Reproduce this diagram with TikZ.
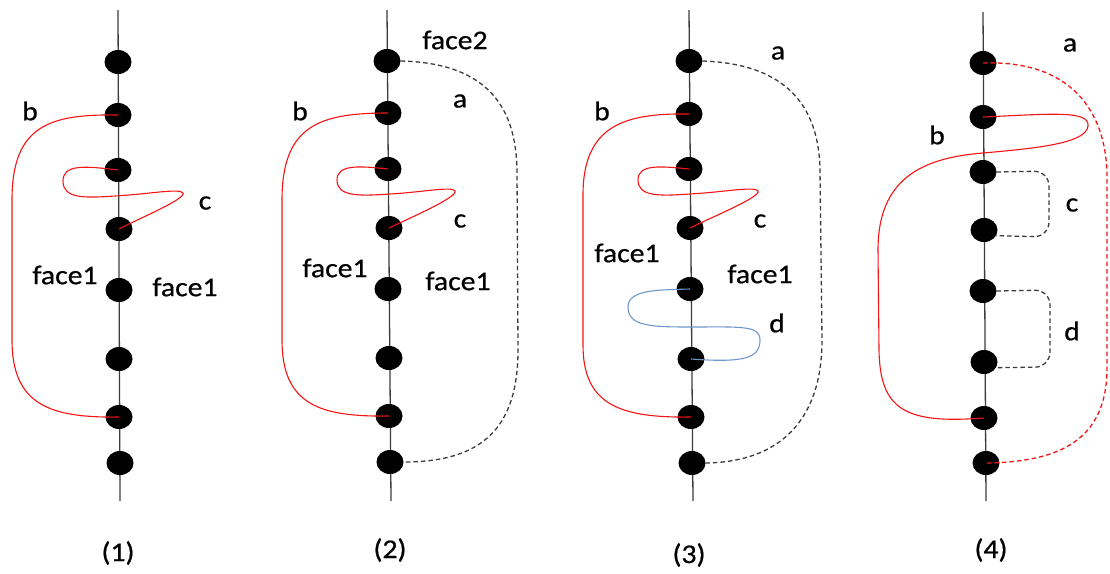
\documentclass[tikz,border=0pt]{standalone}
\usepackage{fontspec}
\setmainfont{Carlito}[FakeStretch=1.1, FakeBold=0.6]
\usetikzlibrary{shapes.geometric}
\definecolor{edgered}{RGB}{245,20,20}
\definecolor{edgeblue}{RGB}{110,150,205}
\definecolor{axisgray}{RGB}{60,60,60}
\tikzset{
  vtx/.style={ellipse, fill=black, minimum width=27pt, minimum height=24pt, inner sep=0pt},
  axis/.style={draw=axisgray, line width=1.3pt},
  redpath/.style={draw=edgered, line width=1.1pt},
  bluepath/.style={draw=edgeblue, line width=1.1pt},
  graydash/.style={draw=axisgray, line width=1.3pt, dash pattern=on 4.5pt off 3pt},
  reddash/.style={draw=edgered, line width=1.3pt, dash pattern=on 4.5pt off 3pt},
  lbl/.style={font=\fontsize{27}{29}\selectfont, inner sep=0pt},
}
\begin{document}
\begin{tikzpicture}[x=1pt, y=-1pt]
\useasboundingbox (0,0) rectangle (1110,573);

% ---------- (1) ----------
\coordinate (Atop) at (118,10);
\coordinate (Abot) at (120,501);
\draw[axis] (Atop) -- (Abot);
\node[vtx] (A1) at (118,62) {};
\node[vtx] (A2) at (118,115) {};
\node[vtx] (A3) at (118,170) {};
\node[vtx] (A4) at (119,229) {};
\node[vtx] (A5) at (119,290) {};
\node[vtx] (A6) at (119,359) {};
\node[vtx] (A7) at (119,417) {};
\node[vtx] (A8) at (120,463) {};
\draw[redpath] (A2.center) .. controls (50,114) and (12,125) .. (12,200)
  -- (12,340) .. controls (12,405) and (50,418) .. (A7.center);
\draw[redpath] (A3.center) .. controls (85,166) and (63,164) .. (63,181)
  .. controls (63,199) and (85,198) .. (115,196)
  .. controls (150,194) and (180,188) .. (183,193)
  .. controls (186,199) and (140,218) .. (A4.center);
\node[lbl] (Ab) at (30,111) {b};
\node[lbl] (Ac) at (205,203) {c};
\node[lbl] (Af1) at (65,275) {face1};
\node[lbl] (Af2) at (185,287) {face1};
\node[lbl] (Acap) at (118,553) {(1)};

% ---------- (2) ----------
\coordinate (Btop) at (387,10);
\coordinate (Bbot) at (391,501);
\draw[axis] (Btop) -- (Bbot);
\node[vtx] (B1) at (387,61) {};
\node[vtx] (B2) at (388,113) {};
\node[vtx] (B3) at (388,169) {};
\node[vtx] (B4) at (389,228) {};
\node[vtx] (B5) at (388,289) {};
\node[vtx] (B6) at (389,358) {};
\node[vtx] (B7) at (389,416) {};
\node[vtx] (B8) at (390,462) {};
\draw[redpath] (B2.center) .. controls (320,113) and (282,125) .. (282,200)
  -- (282,340) .. controls (282,405) and (320,417) .. (B7.center);
\draw[redpath] (B3.center) .. controls (360,166) and (337,164) .. (337,180)
  .. controls (337,197) and (360,196) .. (390,194)
  .. controls (425,192) and (452,186) .. (455,191)
  .. controls (458,197) and (412,217) .. (B4.center);
\draw[graydash] (B1.east) .. controls (490,63) and (516,110) .. (517,170)
  -- (518,350) .. controls (518,430) and (480,462) .. (B8.east);
\node[lbl] (Bface2) at (455,40) {face2};
\node[lbl] (Ba) at (460,101) {a};
\node[lbl] (Bb) at (300,111) {b};
\node[lbl] (Bc) at (460,221) {c};
\node[lbl] (Bf1) at (335,268) {face1};
\node[lbl] (Bf2) at (458,281) {face1};
\node[lbl] (Bcap) at (390,550) {(2)};

% ---------- (3) ----------
\coordinate (Ctop) at (689,10);
\coordinate (Cbot) at (693,501);
\draw[axis] (Ctop) -- (Cbot);
\node[vtx] (C1) at (689,61) {};
\node[vtx] (C2) at (689,114) {};
\node[vtx] (C3) at (689,169) {};
\node[vtx] (C4) at (690,228) {};
\node[vtx] (C5) at (690,289) {};
\node[vtx] (C6) at (691,359) {};
\node[vtx] (C7) at (691,417) {};
\node[vtx] (C8) at (692,463) {};
\draw[redpath] (C2.center) .. controls (625,113) and (583,125) .. (583,195)
  -- (583,345) .. controls (583,405) and (620,418) .. (C7.center);
\draw[redpath] (C3.center) .. controls (660,166) and (638,164) .. (638,180)
  .. controls (638,197) and (660,196) .. (690,194)
  .. controls (725,192) and (755,186) .. (758,191)
  .. controls (761,197) and (712,217) .. (C4.center);
\draw[bluepath] (C5.center) .. controls (660,290) and (628,289) .. (628,307)
  .. controls (628,326) and (650,327) .. (690,327)
  .. controls (740,327) and (760,325) .. (760,340)
  .. controls (760,358) and (745,363) .. (C6.center);
\draw[graydash] (C1.east) .. controls (790,64) and (819,110) .. (820,170)
  -- (822,340) .. controls (822,420) and (780,462) .. (C8.east);
\node[lbl] (Ca) at (778,53) {a};
\node[lbl] (Cb) at (602,111) {b};
\node[lbl] (Cc) at (760,221) {c};
\node[lbl] (Cf1) at (627,253) {face1};
\node[lbl] (Cf2) at (760,274) {face1};
\node[lbl] (Cd) at (777,323) {d};
\node[lbl] (Ccap) at (689,555) {(3)};

% ---------- (4) ----------
\coordinate (Dtop) at (983,12);
\coordinate (Dbot) at (986,501);
\draw[axis] (Dtop) -- (Dbot);
\node[vtx] (D1) at (983,63) {};
\node[vtx] (D2) at (983,117) {};
\node[vtx] (D3) at (983,172) {};
\node[vtx] (D4) at (984,230) {};
\node[vtx] (D5) at (983,291) {};
\node[vtx] (D6) at (984,362) {};
\node[vtx] (D7) at (984,418) {};
\node[vtx] (D8) at (986,463) {};
\draw[reddash] (D1.center) .. controls (1070,60) and (1106,110) .. (1107,175)
  -- (1107,370) .. controls (1106,440) and (1060,462) .. (D8.center);
\draw[redpath] (D2.center) .. controls (1050,114) and (1090,110) .. (1088,126)
  .. controls (1086,143) and (1040,148) .. (983,153)
  .. controls (920,158) and (878,180) .. (878,250)
  -- (879,350) .. controls (880,410) and (905,424) .. (D7.center);
\draw[graydash, rounded corners=15pt] (D3.east) -- (1049,171) -- (1049,237) -- (D4.-25);
\draw[graydash, rounded corners=15pt] (D5.east) -- (1050,290) -- (1050,367) -- (D6.-25);
\node[lbl] (Da) at (1070,45) {a};
\node[lbl] (Db) at (937,135) {b};
\node[lbl] (Dc) at (1072,205) {c};
\node[lbl] (Dd) at (1072,331) {d};
\node[lbl] (Dcap) at (991,550) {(4)};
\end{tikzpicture}
\end{document}
